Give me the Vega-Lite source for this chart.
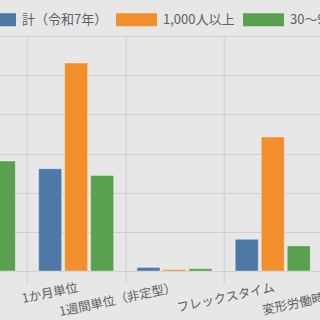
{
  "$schema": "https://vega.github.io/schema/vega-lite/v6.json",
  "autosize": {"type": "none"},
  "width": 491.5,
  "height": 235,
  "padding": {"left": -71.3, "top": 36, "right": -100.2, "bottom": 49},
  "background": "#e7e7e7",
  "config": {
    "font": "Noto Sans CJK JP",
    "view": {"stroke": null, "fill": "#e7e7e7"}
  },
  "data": {
    "values": [
      {"category": "1年単位", "series": "計（令和7年）", "value": 30.5},
      {"category": "1年単位", "series": "1,000人以上", "value": 19.0},
      {"category": "1年単位", "series": "30～99人", "value": 28.1},
      {"category": "1か月単位", "series": "計（令和7年）", "value": 26.1},
      {"category": "1か月単位", "series": "1,000人以上", "value": 53.1},
      {"category": "1か月単位", "series": "30～99人", "value": 24.4},
      {"category": "1週間単位（非定型）", "series": "計（令和7年）", "value": 0.9},
      {"category": "1週間単位（非定型）", "series": "1,000人以上", "value": 0.4},
      {"category": "1週間単位（非定型）", "series": "30～99人", "value": 0.6},
      {"category": "フレックスタイム", "series": "計（令和7年）", "value": 8.1},
      {"category": "フレックスタイム", "series": "1,000人以上", "value": 34.2},
      {"category": "フレックスタイム", "series": "30～99人", "value": 6.4},
      {"category": "変形労働時間制なし", "series": "計（令和7年）", "value": 40.0},
      {"category": "変形労働時間制なし", "series": "1,000人以上", "value": 20.0},
      {"category": "変形労働時間制なし", "series": "30～99人", "value": 42.0}
    ]
  },
  "mark": {"type": "bar", "stroke": "#ffffff", "strokeOpacity": 0.35, "strokeWidth": 1},
  "encoding": {
    "x": {
      "field": "category", "type": "nominal", "sort": null,
      "scale": {"paddingInner": 0, "paddingOuter": 0},
      "axis": {
        "title": null, "labelAngle": -12, "tickBand": "extent",
        "grid": true, "gridColor": "#cfcfcf", "gridWidth": 1,
        "tickColor": "#cfcfcf", "tickSize": 12, "domain": false,
        "labelFontSize": 12.5, "labelColor": "#606060", "labelPadding": -2,
        "labelLimit": 300
      }
    },
    "xOffset": {
      "field": "series", "type": "nominal", "sort": null,
      "scale": {"paddingInner": 0.115, "paddingOuter": 0.448}
    },
    "y": {
      "field": "value", "type": "quantitative",
      "scale": {"domain": [0, 60]},
      "axis": {
        "title": null, "tickCount": 6, "grid": true, "gridColor": "#cfcfcf",
        "domain": false, "ticks": false, "labels": false
      }
    },
    "color": {
      "field": "series", "type": "nominal", "sort": null,
      "scale": {"range": ["#4e79a7", "#f28e2b", "#59a14f"]},
      "legend": {
        "title": null, "orient": "none", "direction": "horizontal",
        "legendX": 46.3, "legendY": -37, "padding": 0,
        "symbolType": "M-1,-0.317H1V0.317H-1Z", "symbolSize": 1681,
        "symbolStrokeWidth": 0, "symbolOpacity": 1,
        "labelFontSize": 13, "labelColor": "#606060", "labelOffset": 6,
        "columnPadding": 8, "labelLimit": 300
      }
    }
  }
}
